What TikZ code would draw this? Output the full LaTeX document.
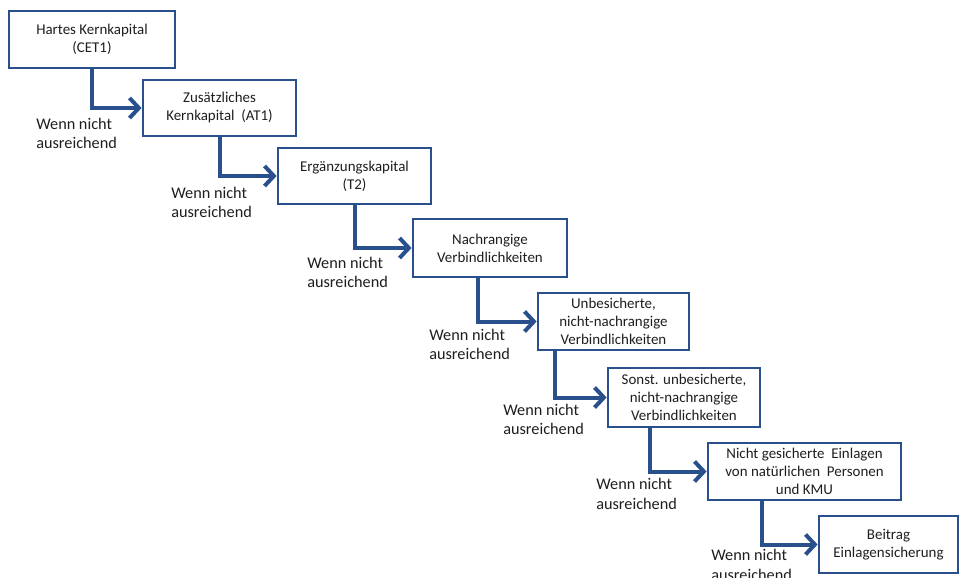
\documentclass[tikz,border=0pt]{standalone}
\usepackage{fontspec}
\setmainfont{Carlito}
\usetikzlibrary{arrows.meta,calc}
\definecolor{boxblue}{RGB}{41,80,140}
\definecolor{txt}{RGB}{30,30,30}
\tikzset{
  stage/.style={draw=boxblue, line width=2.1pt, fill=white, align=center,
    inner sep=2pt, font=\fontsize{11.2}{13.5}\selectfont, text=txt},
  flow/.style={draw=boxblue, line width=3pt,
    -{Straight Barb[length=7pt,width=15pt,line width=3pt]}},
  cond/.style={anchor=west, align=left, inner sep=0pt,
    font=\fontsize{12.2}{14.5}\selectfont, text=txt}
}
\begin{document}
\begin{tikzpicture}[x=0.75pt,y=-0.75pt]
\useasboundingbox (0,0) rectangle (961,578);
\node[stage, minimum width=166*0.75pt, minimum height=57*0.75pt] (b1) at (92,39.5) {Hartes Kernkapital\\(CET1)};
\node[stage, minimum width=153*0.75pt, minimum height=56*0.75pt] (b2) at (219.5,108) {Zusätzliches\\Kernkapital~ (AT1)};
\node[stage, minimum width=153*0.75pt, minimum height=56*0.75pt] (b3) at (354.5,176) {Ergänzungskapital\\(T2)};
\node[stage, minimum width=154*0.75pt, minimum height=58*0.75pt] (b4) at (490,248) {Nachrangige\\Verbindlichkeiten};
\node[stage, minimum width=151*0.75pt, minimum height=57*0.75pt] (b5) at (613.5,321.5) {Unbesicherte,\\nicht-nachrangige\\Verbindlichkeiten};
\node[stage, minimum width=152*0.75pt, minimum height=59*0.75pt] (b6) at (684,397.5) {Sonst. unbesicherte,\\nicht-nachrangige\\Verbindlichkeiten};
\node[stage, minimum width=193*0.75pt, minimum height=57*0.75pt] (b7) at (804.5,471.5) {Nicht gesicherte~ Einlagen\\von natürlichen~ Personen\\und KMU};
\node[stage, minimum width=139*0.75pt, minimum height=57*0.75pt] (b8) at (888.5,544.5) {Beitrag\\Einlagensicherung};

\draw[flow] (b1.south) |- (b2.west);
\draw[flow] (b2.south) |- (b3.west);
\draw[flow] (b3.south) |- (b4.west);
\draw[flow] ($(b4.south)+(-12,0)$) |- (b5.west);
\draw[flow] ($(b5.south)+(-58.5,0)$) |- (b6.west);
\draw[flow] ($(b6.south)+(-34,0)$) |- (b7.west);
\draw[flow] ($(b7.south)+(-42.5,0)$) |- (b8.west);

\node[cond] (l1) at (36,133.5) {Wenn nicht\\ausreichend};
\node[cond] (l2) at (171,202.5) {Wenn nicht\\ausreichend};
\node[cond] (l3) at (307,272.5) {Wenn nicht\\ausreichend};
\node[cond] (l4) at (429,344.5) {Wenn nicht\\ausreichend};
\node[cond] (l5) at (503,419.5) {Wenn nicht\\ausreichend};
\node[cond] (l6) at (596,494) {Wenn nicht\\ausreichend};
\node[cond] (l7) at (711,565) {Wenn nicht\\ausreichend};
\end{tikzpicture}
\end{document}
